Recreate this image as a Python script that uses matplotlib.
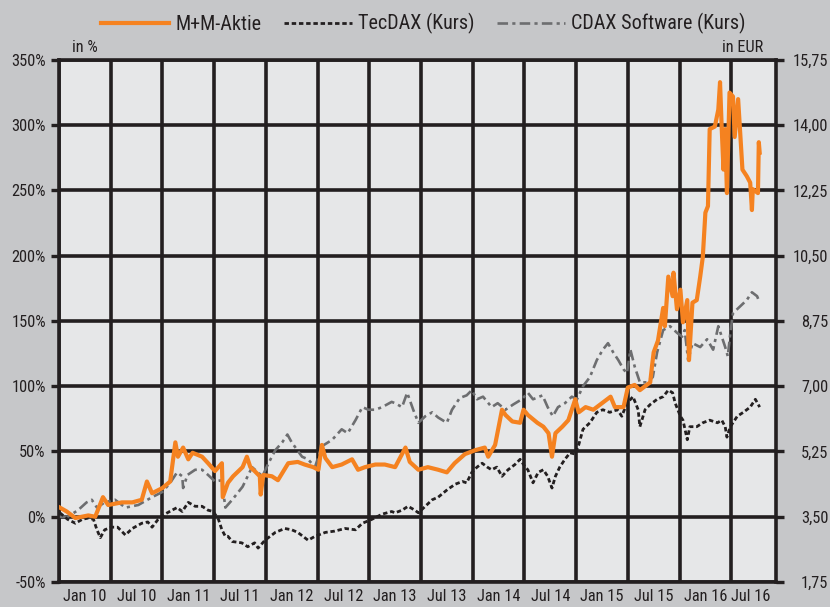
import matplotlib
matplotlib.use("Agg")
import matplotlib.pyplot as plt
from matplotlib import font_manager
import numpy as np

# pick a condensed sans font if one is installed
_cond = [f for f in font_manager.fontManager.ttflist
         if ('Narrow' in f.name or 'Condensed' in f.name or
             str(f.stretch) in ('condensed', 'semi-condensed', '500', '400', 'extra-condensed'))
         and str(f.stretch) not in ('normal',)]
if _cond:
    pref = None
    for want in ['Liberation Sans Narrow', 'Roboto Condensed', 'Open Sans Condensed', 'Noto Sans', 'DejaVu Sans']:
        for f in _cond:
            if f.name == want:
                pref = f
                break
        if pref:
            break
    if pref is None:
        pref = _cond[0]
    plt.rcParams['font.family'] = [pref.name, 'DejaVu Sans']
    plt.rcParams['font.stretch'] = pref.stretch
else:
    plt.rcParams['font.family'] = ['Liberation Sans', 'DejaVu Sans']

# ---------------- data (months since Jan 2010, value in % ) ----------------
mm_months = [0.1, 0.9, 1.9, 3.4, 4.2, 5.1, 5.7, 7.3, 8.5, 9.6, 10.2, 10.8, 12.0, 12.9, 13.5, 13.8,
             14.4, 15.0, 15.5, 16.6, 17.3, 18.1, 18.9, 19.0, 19.6, 20.2, 21.3, 21.8, 22.2, 22.7,
             23.3, 23.4, 23.7, 24.7, 25.4, 26.6, 27.7, 28.5, 29.5, 30.1, 30.5, 30.9, 31.7, 32.8,
             34.0, 34.7, 35.5, 36.7, 37.8, 39.0, 40.2, 40.7, 41.7, 42.8, 44.0, 45.0, 45.9, 47.1,
             48.3, 49.4, 49.8, 50.6, 51.4, 51.8, 52.6, 53.5, 53.9, 54.4, 55.5, 56.2, 56.8, 57.2,
             57.6, 58.4, 59.1, 59.9, 60.3, 61.1, 62.0, 63.0, 64.0, 64.5, 65.5, 66.0, 66.8, 67.4,
             68.2, 68.6, 68.8, 69.0, 69.5, 70.1, 70.3, 70.7, 71.2, 71.3, 71.7, 72.1, 72.4, 72.9,
             73.1, 73.5, 74.0, 74.4, 74.7, 75.0, 75.3, 75.5, 76.1, 76.5, 76.7, 76.9, 77.1, 77.3,
             77.5, 77.8, 78.2, 78.4, 78.8, 79.3, 79.8, 80.2, 80.4, 80.5, 81.1, 81.2, 81.3]
mm_values = [7, 4, -1, 1, 0, 15, 9, 11, 11, 13, 27, 18, 22, 27, 57, 46,
             53, 44, 49, 46, 41, 35, 41, 15, 26, 31, 38, 46, 38, 35,
             31, 17, 32, 31, 28, 41, 42, 40, 38, 36, 55, 45, 38, 40,
             44, 36, 38, 40, 40, 38, 53, 42, 36, 38, 36, 34, 41, 48,
             51, 53, 46, 55, 82, 78, 73, 72, 82, 78, 72, 69, 64, 46,
             64, 69, 74, 90, 80, 84, 82, 87, 92, 84, 84, 99, 101, 97,
             101, 103, 115, 126, 135, 160, 146, 184, 169, 187, 159, 174, 149, 166,
             120, 164, 166, 184, 199, 233, 238, 297, 299, 312, 333, 297, 266, 297,
             248, 325, 322, 291, 320, 266, 261, 256, 235, 251, 248, 287, 279]

cdax_months = [0.1, 1.0, 2.2, 3.2, 3.8, 4.4, 5.3, 6.5, 7.7, 9.2, 10.8, 12.0, 12.9, 13.7, 14.3, 14.4,
               14.9, 15.8, 16.6, 17.3, 18.1, 18.9, 19.3, 20.1, 21.3, 22.4, 23.6, 24.3, 25.1, 25.9,
               26.5, 27.0, 28.2, 28.9, 29.7, 30.5, 31.7, 32.8, 33.5, 34.4, 35.2, 35.9, 36.7, 37.5,
               38.6, 39.0, 39.8, 40.4, 41.1, 41.7, 42.5, 43.3, 44.0, 45.0, 45.6, 46.5, 47.3, 47.9,
               48.5, 49.2, 50.2, 50.9, 51.8, 52.7, 53.7, 54.4, 55.0, 56.1, 56.7, 57.3, 57.9, 58.7,
               59.5, 60.1, 60.8, 61.6, 62.4, 63.1, 63.7, 64.3, 64.9, 65.5, 65.9, 66.3, 66.8, 67.4,
               68.2, 68.9, 69.4, 70.1, 70.9, 71.7, 72.3, 72.6, 73.0, 73.5, 74.4, 75.2, 75.9, 76.5,
               76.9, 77.3, 77.6, 77.9, 78.2, 79.0, 79.8, 80.4, 81.0, 81.3]
cdax_values = [0, 0, 5, 11, 13, 7, 11, 13, 7, 9, 15, 19, 26, 34, 31, 22,
               32, 36, 36, 32, 27, 28, 7, 13, 23, 38, 31, 41, 51, 57,
               63, 57, 46, 44, 38, 54, 59, 67, 64, 74, 84, 82, 82, 84,
               88, 87, 84, 95, 82, 72, 77, 80, 76, 72, 82, 91, 93, 97,
               90, 92, 84, 87, 82, 86, 90, 95, 90, 93, 84, 77, 84, 87,
               92, 90, 100, 107, 120, 128, 133, 126, 120, 113, 110, 128, 115, 103,
               103, 107, 126, 143, 146, 141, 138, 143, 120, 133, 130, 136, 128, 146,
               138, 130, 123, 141, 156, 161, 166, 172, 169, 164]

tecdax_months = [0.1, 1.0, 1.9, 2.7, 3.4, 4.0, 4.4, 4.8, 5.3, 6.1, 6.8, 7.7, 8.5, 9.6, 10.3, 10.8,
                 11.5, 12.3, 13.1, 13.7, 14.3, 15.0, 15.8, 16.6, 17.3, 17.9, 18.5, 18.9, 19.3, 19.6,
                 20.1, 21.2, 21.9, 22.7, 23.1, 23.9, 25.1, 26.2, 27.0, 27.7, 28.9, 29.7, 30.9, 32.0,
                 33.2, 34.4, 35.2, 36.3, 37.5, 38.6, 39.0, 39.8, 40.5, 41.3, 41.7, 42.5, 43.3, 44.0,
                 45.1, 46.0, 46.8, 47.3, 47.9, 48.5, 49.1, 49.7, 50.2, 50.8, 51.4, 52.1, 52.9, 53.5,
                 54.1, 54.4, 55.0, 55.6, 56.2, 56.7, 57.2, 57.6, 58.1, 58.7, 59.3, 59.9, 60.3, 60.8,
                 61.6, 62.4, 63.1, 63.9, 64.8, 65.3, 65.9, 66.6, 67.2, 67.4, 68.0, 68.6, 69.4, 70.1,
                 70.7, 71.2, 71.5, 72.1, 72.4, 72.9, 73.2, 74.0, 74.7, 75.5, 76.4, 76.9, 77.3, 77.5,
                 77.9, 78.7, 79.4, 80.2, 80.8, 81.3]
tecdax_values = [3, -2, -5, -2, -1, -2, -10, -16, -10, -8, -8, -14, -9, -5, -4, -8,
                 -2, 2, 5, 7, 4, 11, 8, 8, 5, 4, -2, -10, -15, -15,
                 -19, -20, -23, -20, -24, -18, -12, -9, -10, -12, -18, -15, -12, -11,
                 -9, -10, -5, -2, 2, 4, 3, 5, 8, 5, 3, 8, 13, 15,
                 21, 25, 27, 26, 34, 38, 41, 38, 36, 38, 31, 36, 40, 44,
                 38, 36, 26, 34, 36, 31, 22, 31, 38, 44, 49, 48, 55, 67,
                 72, 80, 82, 80, 82, 77, 87, 92, 82, 69, 82, 86, 90, 92,
                 97, 95, 87, 77, 74, 59, 69, 69, 72, 74, 72, 74, 69, 61,
                 69, 77, 80, 84, 90, 84]

pct_ticks = [-50, 0, 50, 100, 150, 200, 250, 300, 350]
eur_labels = ["1,75", "3,50", "5,25", "7,00", "8,75", "10,50", "12,25", "14,00", "15,75"]
month_labels = ["Jan 10", "Jul 10", "Jan 11", "Jul 11", "Jan 12", "Jul 12", "Jan 13",
                "Jul 13", "Jan 14", "Jul 14", "Jan 15", "Jul 15", "Jan 16", "Jul 16"]
month_label_pos = [3, 9, 15, 21, 27, 33, 39, 45, 51, 57, 63, 69, 75, 80.3]
series_names = ["M+M-Aktie", "TecDAX (Kurs)", "CDAX Software (Kurs)"]

# ---------------- styling ----------------
FIG_BG = "#c6c7c9"
AX_BG = "#e6e7e8"
GRID = "#231f20"
ORANGE = "#f58220"
GRAY = "#6d6e70"
TXT = "#231f20"

fig = plt.figure(figsize=(8.3, 6.07), dpi=100, facecolor=FIG_BG)
ax = fig.add_axes([0.0711, 0.0412, 0.8639, 0.8600])
ax.set_facecolor(AX_BG)

x_max = 83.2
ax.set_xlim(0, x_max)
ax.set_ylim(-50, 350)

# grid
ax.set_yticks(pct_ticks)
ax.set_yticklabels([f"{v}%" for v in pct_ticks])
ax.set_xticks(np.arange(0, 79, 6))
ax.set_xticklabels([])
ax.set_xticks(month_label_pos, minor=True)
ax.set_xticklabels(month_labels, minor=True)
ax.grid(True, which="major", color=GRID, linewidth=2.6, zorder=1)
ax.set_axisbelow(True)
for s in ax.spines.values():
    s.set_color(GRID)
    s.set_linewidth(2.6)

FS = 11.8
ax.tick_params(axis="y", which="major", length=5.5, width=2.4, color=GRID,
               labelsize=FS, labelcolor=TXT, pad=4)
ax.tick_params(axis="x", which="major", length=0)
ax.tick_params(axis="x", which="minor", length=0, labelsize=FS, labelcolor=TXT, pad=5)

# lines
ax.plot(cdax_months, cdax_values, color=GRAY, linewidth=1.9,
        linestyle=(0, (4, 1.6, 1.2, 1.6)), label=series_names[2], zorder=3)
ax.plot(tecdax_months, tecdax_values, color=GRID, linewidth=2.0,
        linestyle=(0, (1.6, 1.0)), label=series_names[1], zorder=4)
ax.plot(mm_months, mm_values, color=ORANGE, linewidth=3.0,
        label=series_names[0], zorder=5)

# right axis
ax2 = ax.twinx()
ax2.set_ylim(-50, 350)
ax2.set_yticks(pct_ticks)
ax2.set_yticklabels(eur_labels)
ax2.tick_params(axis="y", length=5.5, width=2.4, color=GRID, labelsize=FS,
                labelcolor=TXT, pad=32)
for t in ax2.get_yticklabels():
    t.set_horizontalalignment("right")
for s in ax2.spines.values():
    s.set_visible(False)

# unit labels
fig.text(0.087, 0.922, "in %", fontsize=FS, color=TXT, ha="left", va="center")
fig.text(0.919, 0.922, "in EUR", fontsize=FS, color=TXT, ha="right", va="center")

# legend
h, l = ax.get_legend_handles_labels()
order = [2, 1, 0]
leg = fig.legend([h[i] for i in order], [l[i] for i in order], loc="upper center",
                 bbox_to_anchor=(0.51, 1.008), ncol=3, frameon=False, fontsize=14.5,
                 handlelength=3.4, columnspacing=1.1, handletextpad=0.3)
for t in leg.get_texts():
    t.set_color(TXT)

fig.savefig("out.png", dpi=100, facecolor=FIG_BG)
